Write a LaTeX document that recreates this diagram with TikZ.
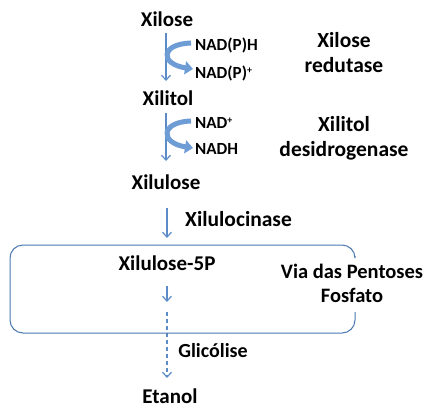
\documentclass[tikz,border=0pt]{standalone}
\usepackage{fontspec}
\setmainfont{Carlito}
\usetikzlibrary{arrows.meta}
\definecolor{thinblue}{HTML}{5B8CC8}
\definecolor{thickblue}{HTML}{6E9DD6}
\definecolor{boxline}{HTML}{4A78B0}
\newcommand{\supplus}{\raisebox{5pt}{\fontsize{10}{10}\selectfont +}}
\tikzset{
  x=1pt, y=-1pt,
  met/.style={font=\bfseries\fontsize{21}{23}\selectfont, inner sep=0pt, anchor=base},
  cof/.style={font=\bfseries\fontsize{17}{19}\selectfont, inner sep=0pt, anchor=base west},
  enz/.style={font=\bfseries\fontsize{21.5}{25}\selectfont, inner sep=0pt, align=center},
  thinarrow/.style={draw=thinblue, line width=1.2pt, -{Straight Barb[length=5pt,width=9pt]}},
  curvarrow/.style={draw=thickblue, line width=5pt, -{Triangle[length=8pt,width=13pt]}},
}
\begin{document}
\begin{tikzpicture}
\useasboundingbox (0,0) rectangle (427,407);
% metabolites
\node[met] (xilose) at (167,26) {Xilose};
\node[met] (xilitol) at (168,105) {Xilitol};
\node[met] (xilulose) at (166,189) {Xilulose};
\node[met] (x5p) at (167,270) {Xilulose-5P};
\node[met] (etanol) at (170,403) {Etanol};
% cofactors
\node[cof] (nadph) at (195,50) {NAD(P)H};
\node[cof] (nadp) at (195,78) {NAD(P)\supplus};
\node[cof] (nad) at (195,128) {NAD\supplus};
\node[cof] (nadh) at (195,154) {NADH};
% enzymes
\node[enz] (xr) at (344,53) {Xilose\\redutase};
\node[enz] (xdh) at (344,138) {Xilitol\\desidrogenase};
\node[enz, anchor=base west] (xk) at (185,226) {Xilulocinase};
\node[enz, font=\bfseries\fontsize{20.5}{24}\selectfont] (ppp) at (352,283) {Via das Pentoses\\Fosfato};
\node[font=\bfseries\fontsize{20}{22}\selectfont, inner sep=0pt, anchor=base] (gli) at (213,357) {Glicólise};
% main arrows
\coordinate (a1s) at (166,33);
\coordinate (a1e) at (166,81);
\draw[thinarrow] (a1s) -- (a1e);
\coordinate (a2s) at (166,113);
\coordinate (a2e) at (166,161);
\draw[thinarrow] (a2s) -- (a2e);
\coordinate (a3s) at (167,208);
\coordinate (a3e) at (167,238);
\draw[thinarrow] (a3s) -- (a3e);
\coordinate (a4s) at (167,286);
\coordinate (a4e) at (167,302);
\draw[thinarrow] (a4s) -- (a4e);
\coordinate (a5s) at (167,312);
\coordinate (a5e) at (167,378);
\draw[thinarrow, dash pattern=on 4pt off 3pt] (a5s) -- (a5e);
% curved cofactor arrows
\coordinate (c1s) at (191,43);
\coordinate (c1e) at (193,69);
\draw[curvarrow] (c1s) .. controls (160,44) and (160,64) .. (c1e);
\coordinate (c2s) at (191,121);
\coordinate (c2e) at (193,148);
\draw[curvarrow] (c2s) .. controls (160,122) and (160,143) .. (c2e);
% pentose phosphate box
\coordinate (bs) at (355,256);
\coordinate (be) at (355,312);
\draw[boxline, line width=1pt, rounded corners=13pt] (bs) -- (355,245) -- (10,245) -- (10,333) -- (355,333) -- (be);
\end{tikzpicture}
\end{document}
